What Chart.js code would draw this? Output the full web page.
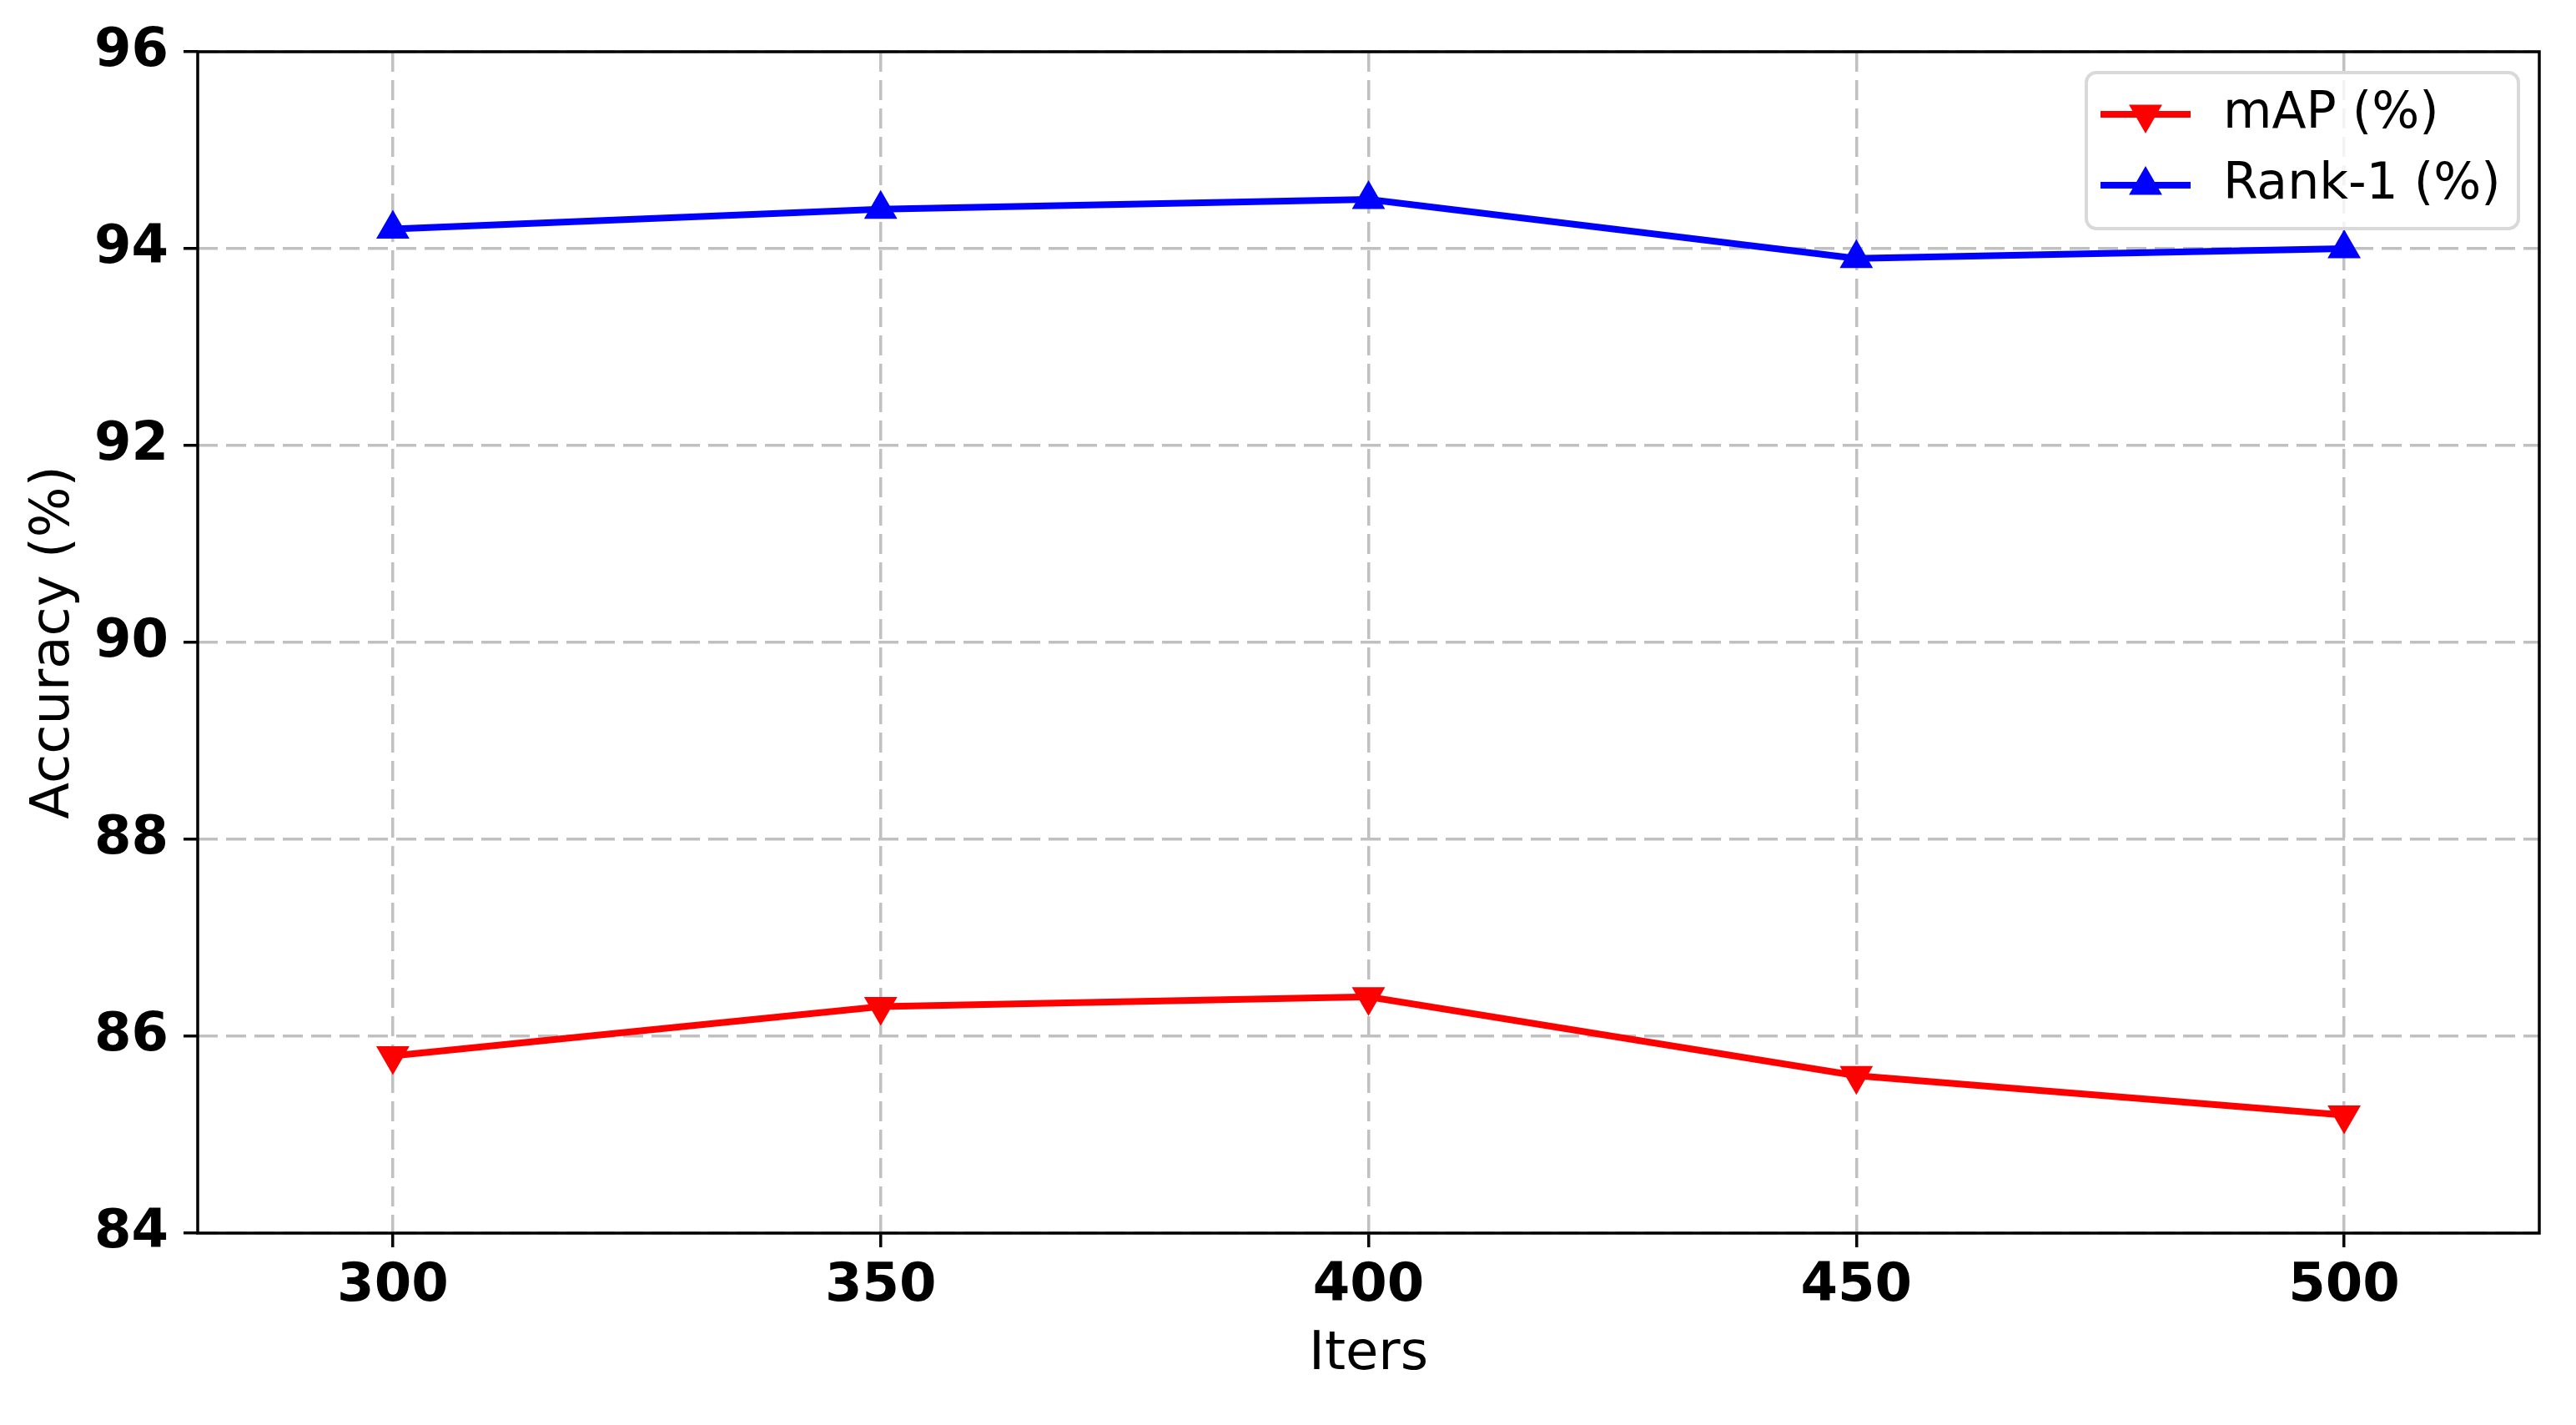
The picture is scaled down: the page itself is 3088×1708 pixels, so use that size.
<!DOCTYPE html>
<html>
<head>
<meta charset="utf-8">
<script src="https://cdn.jsdelivr.net/npm/chart.js@4.4.1/dist/chart.umd.min.js"></script>
<style>
  html, body { margin: 0; padding: 0; background: #fff; }
  #wrap { width: 3088px; height: 1708px; }
</style>
</head>
<body>
<div id="wrap"><canvas id="myChart" width="3088" height="1708"></canvas></div>
<script>
// data
const iters = [300, 350, 400, 450, 500];
const mapValues = [85.8, 86.3, 86.4, 85.6, 85.2];
const rank1Values = [94.2, 94.4, 94.5, 93.9, 94.0];
const xTickValues = [300, 350, 400, 450, 500];
const yTickValues = [84, 86, 88, 90, 92, 94, 96];

const FONT = "'DejaVu Sans', sans-serif";

function drawTri(ctx, x, y, r, rotDeg) {
  let rad = rotDeg * Math.PI / 180;
  ctx.moveTo(x + Math.sin(rad) * r, y - Math.cos(rad) * r);
  for (let k = 0; k < 2; k++) {
    rad += 2 * Math.PI / 3;
    ctx.lineTo(x + Math.sin(rad) * r, y - Math.cos(rad) * r);
  }
  ctx.closePath();
}

// full frame around the plot area + legend box inside it
const framePlugin = {
  id: 'frame',
  afterDraw(chart) {
    const ctx = chart.ctx;
    const a = chart.chartArea;
    ctx.save();
    ctx.strokeStyle = '#000';
    ctx.lineWidth = 3.5;
    ctx.strokeRect(a.left, a.top, a.right - a.left, a.bottom - a.top);

    // legend
    const w = 518, h = 187;
    const x0 = a.right - 25 - w, y0 = a.top + 25;
    ctx.beginPath();
    ctx.roundRect(x0, y0, w, h, 12);
    ctx.fillStyle = 'rgba(255,255,255,0.8)';
    ctx.fill();
    ctx.strokeStyle = '#d9d9d9';
    ctx.lineWidth = 4;
    ctx.stroke();

    chart.data.datasets.forEach((ds, i) => {
      const cy = y0 + 50 + i * 85;
      ctx.strokeStyle = ds.borderColor;
      ctx.lineWidth = ds.borderWidth;
      ctx.beginPath();
      ctx.moveTo(x0 + 17, cy);
      ctx.lineTo(x0 + 125, cy);
      ctx.stroke();
      ctx.fillStyle = ds.pointBackgroundColor;
      ctx.strokeStyle = ds.pointBorderColor;
      ctx.lineWidth = ds.pointBorderWidth;
      ctx.beginPath();
      drawTri(ctx, x0 + 71, cy, ds.pointRadius, ds.pointRotation || 0);
      ctx.fill();
      ctx.stroke();
      ctx.fillStyle = '#000';
      ctx.font = '60px ' + FONT;
      ctx.textBaseline = 'middle';
      ctx.textAlign = 'left';
      ctx.fillText(ds.label, x0 + 164, cy);
    });
    ctx.restore();
  }
};

const gridStyle = {
  color: '#c0c0c0',
  lineWidth: 3.5,
  drawTicks: true,
  tickLength: 17,
  tickColor: '#000',
  tickWidth: 3.5,
  tickBorderDash: []
};

new Chart(document.getElementById('myChart'), {
  type: 'line',
  data: {
    labels: iters,
    datasets: [
      {
        label: 'mAP (%)',
        data: iters.map((x, i) => ({ x: x, y: mapValues[i] })),
        borderColor: '#ff0000',
        backgroundColor: '#ff0000',
        pointBackgroundColor: '#ff0000',
        pointBorderColor: '#ff0000',
        borderWidth: 8,
        pointStyle: 'triangle',
        pointRotation: 180,
        pointRadius: 21,
        pointBorderWidth: 2,
        tension: 0,
        fill: false
      },
      {
        label: 'Rank-1 (%)',
        data: iters.map((x, i) => ({ x: x, y: rank1Values[i] })),
        borderColor: '#0000ff',
        backgroundColor: '#0000ff',
        pointBackgroundColor: '#0000ff',
        pointBorderColor: '#0000ff',
        borderWidth: 8,
        pointStyle: 'triangle',
        pointRotation: 0,
        pointRadius: 21,
        pointBorderWidth: 2,
        tension: 0,
        fill: false
      }
    ]
  },
  options: {
    responsive: false,
    animation: false,
    devicePixelRatio: 1,
    layout: { padding: { top: 62, right: 44, left: 0, bottom: 0 } },
    plugins: {
      legend: { display: false },
      tooltip: { enabled: false }
    },
    scales: {
      x: {
        type: 'linear',
        min: 280,
        max: 520,
        afterBuildTicks: (scale) => { scale.ticks = xTickValues.map(v => ({ value: v })); },
        afterFit: (scale) => { scale.height = 230; },
        grid: gridStyle,
        border: { display: false, dash: [24, 10] },
        ticks: {
          color: '#000',
          padding: 9,
          font: { family: FONT, size: 64, weight: 'bold' }
        },
        title: {
          display: true,
          text: 'Iters',
          color: '#000',
          padding: { top: 0, bottom: 45 },
          font: { family: FONT, size: 64 }
        }
      },
      y: {
        min: 84,
        max: 96,
        afterBuildTicks: (scale) => { scale.ticks = yTickValues.map(v => ({ value: v })); },
        afterFit: (scale) => { scale.width = 237; },
        grid: gridStyle,
        border: { display: false, dash: [24, 10] },
        ticks: {
          color: '#000',
          padding: 18,
          font: { family: FONT, size: 64, weight: 'bold' }
        },
        title: {
          display: true,
          text: 'Accuracy (%)',
          color: '#000',
          padding: { top: 27, bottom: 0 },
          font: { family: FONT, size: 64 }
        }
      }
    }
  },
  plugins: [framePlugin]
});
</script>
</body>
</html>
